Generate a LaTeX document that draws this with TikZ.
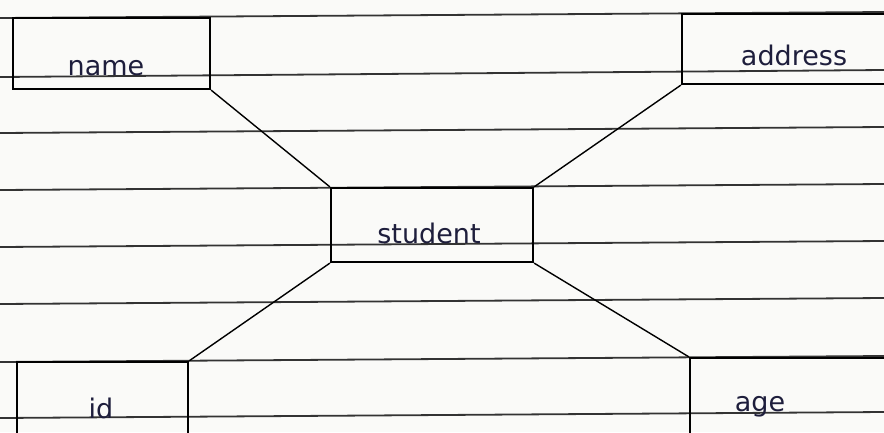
\documentclass[tikz,border=0pt]{standalone}
\usepackage{fontspec}
\setmainfont{DejaVu Sans}
\definecolor{paper}{HTML}{FAFAF8}
\definecolor{ruling}{HTML}{333333}
\definecolor{ink}{HTML}{1E1E3C}
\tikzset{
  ruleline/.style={draw=ruling, line width=1.8pt},
  entbox/.style={draw=black, line width=2.2pt, rectangle, inner sep=0pt},
  handtext/.style={text=ink, font=\fontsize{27}{29}\selectfont, anchor=base, inner sep=0pt},
  link/.style={draw=black, line width=1.4pt}
}
\begin{document}
\begin{tikzpicture}[x=1pt, y=-1pt]
\path[fill=paper] (0,0) rectangle (884,432);
\useasboundingbox (0,0) rectangle (884,432);
% ruled paper
\foreach \a/\b in {18/12, 77/70, 133/127, 190/184, 247/241, 304/298, 362/356, 418/412}
  \draw[ruleline] (0,\a) -- (884,\b);
% entity boxes
\node[entbox, minimum width=197pt, minimum height=71pt] (name) at (111.5,53.5) {};
\node[entbox, minimum width=210pt, minimum height=70pt] (address) at (787,49) {};
\node[entbox, minimum width=202pt, minimum height=74pt] (student) at (432,225) {};
\node[entbox, minimum width=171pt, minimum height=90pt] (id) at (102.5,407) {};
\node[entbox, minimum width=205pt, minimum height=90pt] (age) at (792.5,403) {};
% labels
\node[handtext] (tname) at (106,75) {name};
\node[handtext] (taddress) at (794,65) {address};
\node[handtext] (tstudent) at (429,243) {student};
\node[handtext] (tid) at (101,418) {id};
\node[handtext] (tage) at (760,411) {age};
% connectors
\draw[link] (name.south east) -- (student.north west);
\draw[link] (address.south west) -- (student.north east);
\draw[link] (student.south west) -- (id.north east);
\draw[link] (student.south east) -- (age.north west);
\end{tikzpicture}
\end{document}
